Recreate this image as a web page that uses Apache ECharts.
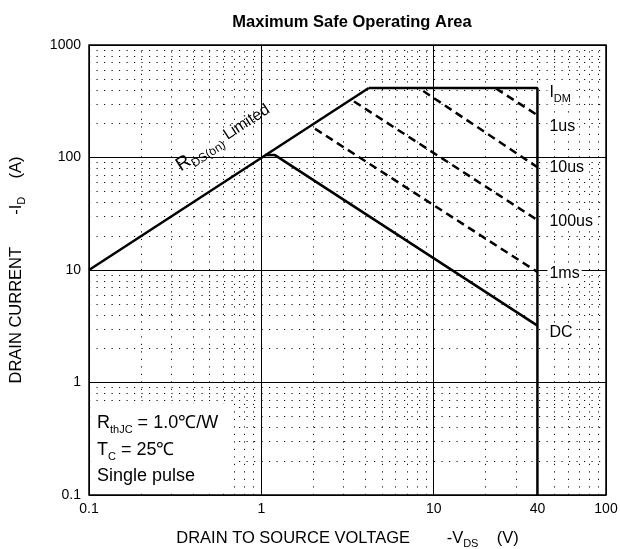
<!DOCTYPE html>
<html>
<head>
<meta charset="utf-8">
<script src="https://cdn.jsdelivr.net/npm/echarts@6/dist/echarts.min.js"></script>
<style>
html, body { margin: 0; padding: 0; background: #fff; }
#chart { width: 620px; height: 549px; }
</style>
</head>
<body>
<div id="chart"></div>
<script>
// boundary lines of the SOA, [V_DS, I_D]
var rdsLimit = [[0.1, 10], [4.2, 415]];
var idmLimit = [[4.2, 415], [40, 415], [40, 0.1]];
var dcLine = [[1.05, 105], [1.2, 105], [40, 3.2]];
var pulse1us = [[23, 410], [40, 238]];
var pulse10us = [[8.7, 390], [40, 82]];
var pulse100us = [[3.45, 315], [40, 27.8]];
var pulse1ms = [[2.05, 180], [40, 9.6]];

var xDecades = [0.1, 1, 10];
var yDecades = [0.1, 1, 10, 100];
var extraXTick = 40;

// curve names at the right side, anchored at V = 40 and this current
var curveLabels = [
  { text: '{m|I}{s|DM}', at: 380 },
  { text: '1us', at: 190 },
  { text: '10us', at: 80.7 },
  { text: '100us', at: 26.7 },
  { text: '1ms', at: 9.2 },
  { text: 'DC', at: 2.75 }
];

var FONT = 'Arial, "Liberation Sans", Helvetica, sans-serif';

function minorValues(decades) {
  var out = [];
  decades.forEach(function (d) {
    for (var k = 2; k <= 9; k++) out.push(+(k * d).toPrecision(3));
  });
  return out;
}

var minorGrid = [];
minorValues(xDecades).forEach(function (v) { minorGrid.push({ xAxis: v }); });
minorValues(yDecades).forEach(function (v) { minorGrid.push({ yAxis: v }); });

var solid = { color: '#000', width: 2.5 };
var dashed = { color: '#000', width: 2.5, type: [8, 5] };

function lineSeries(name, data, style) {
  return {
    name: name, type: 'line', data: data, symbol: 'none',
    lineStyle: style, z: 5, silent: true, animation: false
  };
}

var nameRich = {
  n: { fontFamily: FONT, fontSize: 16.5, color: '#000', lineHeight: 22 },
  s: { fontFamily: FONT, fontSize: 11, color: '#000', lineHeight: 12, verticalAlign: 'bottom' }
};

var chart = echarts.init(document.getElementById('chart'));

chart.setOption({
  animation: false,
  backgroundColor: '#fff',
  title: {
    text: 'Maximum Safe Operating Area',
    left: 347, top: 9, textAlign: 'center',
    textStyle: { fontFamily: FONT, fontSize: 16.5, fontWeight: 'bold', color: '#000' }
  },
  grid: {
    left: 89, right: 14, top: 45, bottom: 54,
    outerBoundsMode: 'none', containLabel: false,
    show: true, borderColor: '#000', borderWidth: 1.5
  },
  xAxis: {
    type: 'log', logBase: 10, min: 0.1, max: 100,
    name: '{n|DRAIN TO SOURCE VOLTAGE        -V}{s|DS}{n|    (V)}',
    nameLocation: 'middle', nameGap: 32,
    nameTextStyle: { rich: nameRich },
    axisLine: { show: false },
    axisTick: { show: false },
    axisLabel: { fontFamily: FONT, fontSize: 14, color: '#000', margin: 7,
      formatter: function (v) { return String(v); } },
    splitLine: { show: true, lineStyle: { color: '#000', width: 1 } }
  },
  yAxis: {
    type: 'log', logBase: 10, min: 0.1, max: 1000,
    name: '{n|DRAIN CURRENT       -I}{s|D}{n|    (A)}',
    nameLocation: 'middle', nameGap: 62,
    nameTextStyle: { rich: nameRich },
    axisLine: { show: false },
    axisTick: { show: false },
    axisLabel: { fontFamily: FONT, fontSize: 14, color: '#000', margin: 8,
      formatter: function (v) { return String(v); } },
    splitLine: { show: true, lineStyle: { color: '#000', width: 1 } }
  },
  series: [
    {
      name: 'grid', type: 'line', data: [], z: 1, silent: true, animation: false,
      markLine: {
        silent: true, animation: false, symbol: ['none', 'none'],
        label: { show: false },
        lineStyle: { color: '#111', width: 1, type: [1.2, 6.3] },
        data: minorGrid
      }
    },
    lineSeries('RDS(on) Limited', rdsLimit, solid),
    lineSeries('IDM', idmLimit, solid),
    lineSeries('DC', dcLine, solid),
    lineSeries('1us', pulse1us, dashed),
    lineSeries('10us', pulse10us, dashed),
    lineSeries('100us', pulse100us, dashed),
    lineSeries('1ms', pulse1ms, dashed)
  ]
});

function px(p) {
  return chart.convertToPixel({ xAxisIndex: 0, yAxisIndex: 0 }, p);
}

var graphics = [];

// the "40" tick label under the x axis
var p40 = px([extraXTick, 0.1]);
graphics.push({
  type: 'text', x: p40[0], y: p40[1] + 7, z: 20,
  style: { text: String(extraXTick), font: '14px ' + FONT, fill: '#000', align: 'center', verticalAlign: 'top' }
});

curveLabels.forEach(function (c) {
  var p = px([40, c.at]);
  graphics.push({
    type: 'text', x: p[0] + 10, y: p[1], z: 20,
    style: {
      text: c.text, fill: '#000', align: 'left', verticalAlign: 'middle',
      font: '16px ' + FONT, backgroundColor: '#fff', padding: [0, 2],
      rich: {
        m: { fontFamily: FONT, fontSize: 16, lineHeight: 24 },
        s: { fontFamily: FONT, fontSize: 11, lineHeight: 11, verticalAlign: 'bottom' }
      }
    }
  });
});

// RDS(on) Limited, along the rising line
var a = px([0.1, 10]), b = px([1, 100]);
var angle = Math.atan2(a[1] - b[1], b[0] - a[0]);
var rp = px([0.6, 150]);
graphics.push({
  type: 'text', x: rp[0], y: rp[1], rotation: angle, z: 20,
  style: {
    text: '{r|R}{s|DS(on)}{l| Limited}', align: 'center', verticalAlign: 'middle',
    rich: {
      r: { fontFamily: FONT, fontSize: 19, lineHeight: 24, fill: '#000' },
      s: { fontFamily: FONT, fontSize: 12, lineHeight: 12, verticalAlign: 'bottom', fill: '#000' },
      l: { fontFamily: FONT, fontSize: 16, lineHeight: 24, fill: '#000' }
    }
  }
});

// test conditions, bottom left
var condRich = {
  m: { fontFamily: FONT, fontSize: 18, lineHeight: 24, fill: '#000' },
  s: { fontFamily: FONT, fontSize: 11, lineHeight: 12, verticalAlign: 'bottom', fill: '#000' }
};
graphics.push({
  type: 'rect', z: 15, silent: true,
  shape: { x: 92, y: 404, width: 142, height: 84 },
  style: { fill: '#fff' }
});
[
  { text: '{m|R}{s|thJC}{m| = 1.0\u2103/W}', y: 423 },
  { text: '{m|T}{s|C}{m| = 25\u2103}', y: 450 },
  { text: '{m|Single pulse}', y: 476 }
].forEach(function (t) {
  graphics.push({
    type: 'text', x: 97, y: t.y, z: 20,
    style: { text: t.text, align: 'left', verticalAlign: 'middle', rich: condRich }
  });
});

chart.setOption({ graphic: graphics });
</script>
</body>
</html>
